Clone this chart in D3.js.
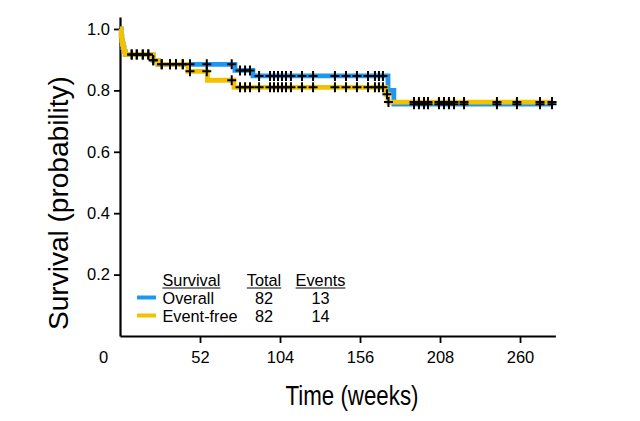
<!DOCTYPE html>
<html><head><meta charset="utf-8">
<script src="https://cdn.jsdelivr.net/npm/d3@7/dist/d3.min.js"></script>
<style>
html,body{margin:0;padding:0;background:#fff;}
svg{display:block;}
text{font-family:"Liberation Sans",Arial,Helvetica,sans-serif;fill:#000;}
</style></head><body>
<svg id="chart" width="640" height="421"></svg>
<script>
// ---- data ----
const xTickValues = [0, 52, 104, 156, 208, 260];
const yTickValues = [0.2, 0.4, 0.6, 0.8, 1.0];

// Overall survival: event times (weeks) and survival after each step
const overallTimes = [0, 0.8, 1.2, 1.6, 2.0, 2.6, 3.4, 21.5, 24.7, 74.7, 86.4, 174.2, 178.0];
const overallSurv  = [1.0, 0.976, 0.963, 0.951, 0.939, 0.927, 0.917, 0.898, 0.885, 0.865, 0.847, 0.80, 0.755];
// Event-free survival
const eventFreeTimes = [0, 0.8, 1.2, 1.6, 2.0, 2.6, 3.4, 21.5, 24.7, 44.2, 56.8, 74.1, 172.8, 174.2];
const eventFreeSurv  = [1.0, 0.976, 0.963, 0.951, 0.939, 0.927, 0.917, 0.898, 0.885, 0.862, 0.833, 0.81, 0.787, 0.762];

// Censored observations (weeks)
const overallCensor = [7.6, 10.9, 14.8, 18.4, 21.6, 27.1, 32.5, 36.4, 40.8, 45.5, 56.4, 72.6, 78.0, 81.3, 84.5,
  90.4, 97.5, 100.1, 102.7, 105.3, 107.9, 111.1, 118.3, 125.5, 139.7, 146.9, 154.0, 161.2, 165.7, 168.3, 170.9,
  191.1, 194.3, 197.6, 200.2, 207.3, 210.6, 213.8, 217.1, 223.6, 245.0, 258.0, 273.0, 280.8];
const eventFreeCensor = [7.6, 10.9, 14.8, 18.4, 21.6, 27.1, 32.5, 36.4, 40.8, 45.5, 56.4, 72.6, 78.0, 81.3, 84.5,
  90.4, 97.5, 100.1, 102.7, 105.3, 107.9, 111.1, 118.3, 125.5, 139.7, 146.9, 154.0, 161.2, 165.7, 168.3, 170.9,
  173.5, 174.5,
  191.1, 194.3, 197.6, 200.2, 207.3, 210.6, 213.8, 217.1, 223.6, 245.0, 258.0, 273.0, 280.8];
const lastFollowUp = 280.8;

// Legend table
const legendHeaders = ["Survival", "Total", "Events"];
const legendNames   = ["Overall", "Event-free"];
const legendTotals  = [82, 82];
const legendEvents  = [13, 14];
const seriesColors  = ["#1e98ee", "#f2c200"];

// ---- drawing ----
const svg = d3.select("#chart");
const x = d3.scaleLinear().domain([0, 283]).range([120, 555.4]);
const y = d3.scaleLinear().domain([0, 1.039]).range([336, 17]);

// axes
const xAxis = svg.append("g").attr("transform", `translate(0,${y(0)})`)
  .call(d3.axisBottom(x).tickValues(xTickValues).tickSize(7).tickSizeOuter(0).tickPadding(8).tickFormat(d3.format("d")));
const yAxis = svg.append("g").attr("transform", `translate(${x(0)},0)`)
  .call(d3.axisLeft(y).tickValues(yTickValues).tickSize(6).tickSizeOuter(0).tickPadding(4).tickFormat(d3.format(".1f")));
[xAxis, yAxis].forEach(g => {
  g.select(".domain").attr("stroke", "#000").attr("stroke-width", 2.2);
  g.selectAll(".tick line").attr("stroke", "#000").attr("stroke-width", 1.8);
  g.selectAll(".tick text").attr("fill", "#000").style("font-size", "16.5px")
    .style("font-family", '"Liberation Sans", Arial, sans-serif');
});
// the zero label sits left of the corner, without a tick mark
xAxis.selectAll(".tick").filter(d => d === 0).each(function () {
  d3.select(this).select("line").remove();
  d3.select(this).select("text").attr("x", -17);
});

// axis titles (condensed look: scaled horizontally to the reference width)
function condensedText(cx, cy, rotate, str, size, targetLen) {
  const g = svg.append("g").attr("transform", `translate(${cx},${cy}) rotate(${rotate})`);
  const t = g.append("text").attr("text-anchor", "middle").style("font-size", size + "px").text(str);
  const len = t.node().getComputedTextLength();
  t.attr("transform", `scale(${targetLen / len},1)`);
  return t;
}
condensedText(352, 405, 0, "Time (weeks)", 27, 133);
condensedText(68, 203, -90, "Survival (probability)", 27, 254);

// step curves
function stepData(times, surv) {
  const pts = times.map((t, i) => [t, surv[i]]);
  pts.push([lastFollowUp, surv[surv.length - 1]]);
  return pts;
}
const line = d3.line().x(d => x(d[0])).y(d => y(d[1])).curve(d3.curveStepAfter);
function survAt(times, surv, t) {
  let s = surv[0];
  for (let i = 0; i < times.length; i++) if (times[i] <= t) s = surv[i];
  return s;
}
const series = [
  {times: overallTimes, surv: overallSurv, censor: overallCensor, color: seriesColors[0]},
  {times: eventFreeTimes, surv: eventFreeSurv, censor: eventFreeCensor, color: seriesColors[1]}
];
series.forEach(sr => {
  svg.append("path").datum(stepData(sr.times, sr.surv)).attr("d", line)
    .attr("fill", "none").attr("stroke", sr.color).attr("stroke-width", 4.8)
    .attr("stroke-linejoin", "miter").attr("stroke-linecap", "butt");
});
series.forEach(sr => {
  const g = svg.append("g");
  sr.censor.forEach(t => {
    const cx = x(t), cy = y(survAt(sr.times, sr.surv, t));
    g.append("path").attr("d", `M${cx - 4.5},${cy}H${cx + 4.5}M${cx},${cy - 5}V${cy + 5}`)
      .attr("stroke", "#000").attr("stroke-width", 2).attr("fill", "none");
  });
});

// legend
const colX = [162.5, 264, 320.5];
const headerY = 285.5, rowY = [303.5, 321.5];
const lfs = "16.3px";
legendHeaders.forEach((h, i) => {
  const t = svg.append("text").attr("x", colX[i]).attr("y", headerY)
    .attr("text-anchor", i === 0 ? "start" : "middle").style("font-size", lfs).text(h);
  const w = t.node().getComputedTextLength();
  const x0 = i === 0 ? colX[i] : colX[i] - w / 2;
  svg.append("line").attr("x1", x0).attr("x2", x0 + w).attr("y1", headerY + 2.5).attr("y2", headerY + 2.5)
    .attr("stroke", "#000").attr("stroke-width", 1.2);
});
legendNames.forEach((n, i) => {
  svg.append("line").attr("x1", 137).attr("x2", 156).attr("y1", rowY[i] - 6).attr("y2", rowY[i] - 6)
    .attr("stroke", seriesColors[i]).attr("stroke-width", 4);
  svg.append("text").attr("x", colX[0]).attr("y", rowY[i]).style("font-size", lfs).text(n);
  svg.append("text").attr("x", colX[1]).attr("y", rowY[i]).attr("text-anchor", "middle").style("font-size", lfs).text(legendTotals[i]);
  svg.append("text").attr("x", colX[2]).attr("y", rowY[i]).attr("text-anchor", "middle").style("font-size", lfs).text(legendEvents[i]);
});
</script>
</body></html>
